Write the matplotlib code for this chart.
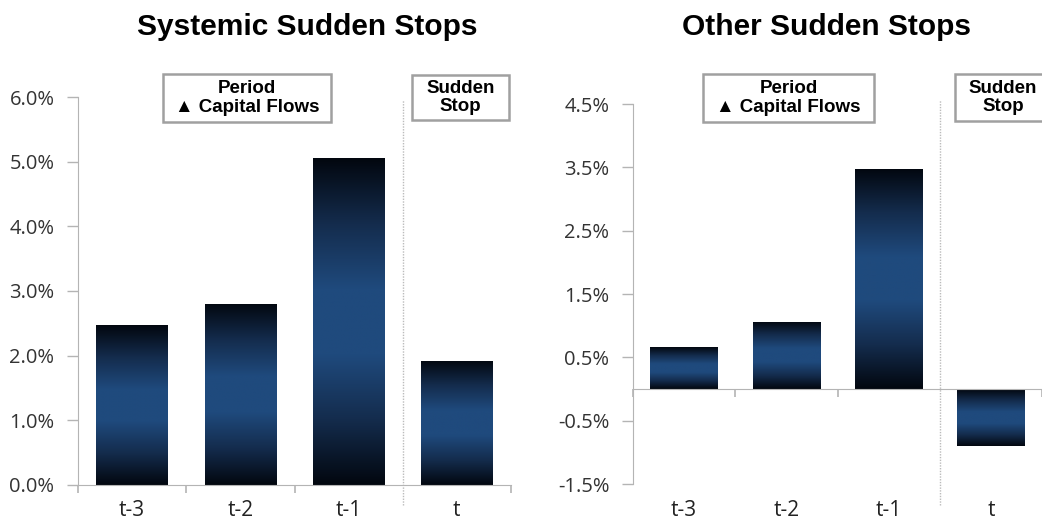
import numpy as np
import matplotlib
matplotlib.use("Agg")
import matplotlib.pyplot as plt
import matplotlib.transforms as mtransforms
from matplotlib.colors import LinearSegmentedColormap
from matplotlib.patches import Rectangle

# data
periods = ["t-3", "t-2", "t-1", "t"]
systemic = [2.47, 2.80, 5.05, 1.92]
other = [0.66, 1.06, 3.48, -0.90]

left_ticks = [0, 1, 2, 3, 4, 5, 6]
right_ticks = [-1.5, -0.5, 0.5, 1.5, 2.5, 3.5, 4.5]

W, H = 1042, 523
fig = plt.figure(figsize=(W / 100, H / 100), dpi=100)

def fx(px):
    return px / W

def fy(py):
    return 1 - py / H

grad = LinearSegmentedColormap.from_list(
    "bar", ["#02070f", "#142c4d", "#1f4a7d", "#1f4a7d", "#142c4d", "#02070f"])
grey = "#b4b4b4"
fam = ["Liberation Sans", "DejaVu Sans"]
tick_fam = ["Open Sans", "DejaVu Sans"]


def panel(rect, values, yticks, ylim, xright, title, title_x):
    ax = fig.add_axes(rect)
    x = np.arange(len(values))
    bars = ax.bar(x, values, width=0.66, color="none", edgecolor="none", zorder=2)
    img = np.linspace(0, 1, 256).reshape(-1, 1)
    for b in bars:
        y0, y1 = sorted([b.get_y(), b.get_y() + b.get_height()])
        im = ax.imshow(img, cmap=grad, aspect="auto", zorder=2,
                       extent=[b.get_x(), b.get_x() + b.get_width(), y0, y1],
                       origin="lower", interpolation="bilinear")
        im.set_clip_path(b)
    ax.set_xlim(-0.5, xright)
    ax.set_ylim(*ylim)
    ax.set_yticks(yticks)
    ax.set_yticklabels([f"{t:.1f}%" for t in yticks], fontsize=14.5,
                       color="#333333", family=tick_fam)
    ax.tick_params(axis="y", length=8, color=grey, width=1, pad=9)
    for s in ["top", "right"]:
        ax.spines[s].set_visible(False)
    ax.spines["left"].set_color(grey)
    ax.spines["bottom"].set_color(grey)
    ax.spines["bottom"].set_position(("data", 0))
    ax.set_xticks([-0.5, 0.5, 1.5, 3.5])
    ax.set_xticklabels([])
    ax.tick_params(axis="x", direction="out", length=6, color=grey, width=1.2)
    tr = mtransforms.blended_transform_factory(ax.transData, fig.transFigure)
    for xi, lab in zip(x, periods):
        ax.text(xi, fy(511), lab, transform=tr, ha="center", va="center",
                fontsize=15, color="#222222", family=tick_fam)
    ax.plot([2.5, 2.5], [fy(505), fy(100)], transform=tr, color="#bbbbbb",
            lw=1, ls=(0, (1, 1)), clip_on=False, zorder=1)
    fig.text(fx(title_x), fy(27), title, ha="center", va="center",
             fontsize=21.5, fontweight="heavy", family=fam)
    return ax


def box(x0, y0, x1, y1, text, cx=None):
    fig.patches.append(Rectangle((fx(x0), fy(y1)), fx(x1 - x0), fy(y0) - fy(y1),
                                 transform=fig.transFigure, facecolor="white",
                                 edgecolor="#a0a0a0", lw=1.8))
    if cx is None:
        cx = (x0 + x1) / 2
    fig.text(fx(cx), fy((y0 + y1) / 2), text, ha="center",
             va="center", fontsize=13.5, fontweight="bold", family=fam,
             linespacing=1.15)


panel([fx(78), fy(485), fx(511) - fx(78), fy(97) - fy(485)],
      systemic, left_ticks, (0, 6), 3.5, "Systemic Sudden Stops", 307)
panel([fx(633), fy(484), fx(1042) - fx(633), fy(104) - fy(484)],
      other, right_ticks, (-1.5, 4.5), 3.395, "Other Sudden Stops", 826)

box(163, 74, 331, 122, "Period\n\u25b2 Capital Flows")
box(412, 75, 509, 120, "Sudden\nStop")
box(703, 74, 874, 122, "Period\n\u25b2 Capital Flows")
box(955, 74, 1060, 121, "Sudden\nStop", cx=1003)

fig.savefig("out.png", dpi=100)
